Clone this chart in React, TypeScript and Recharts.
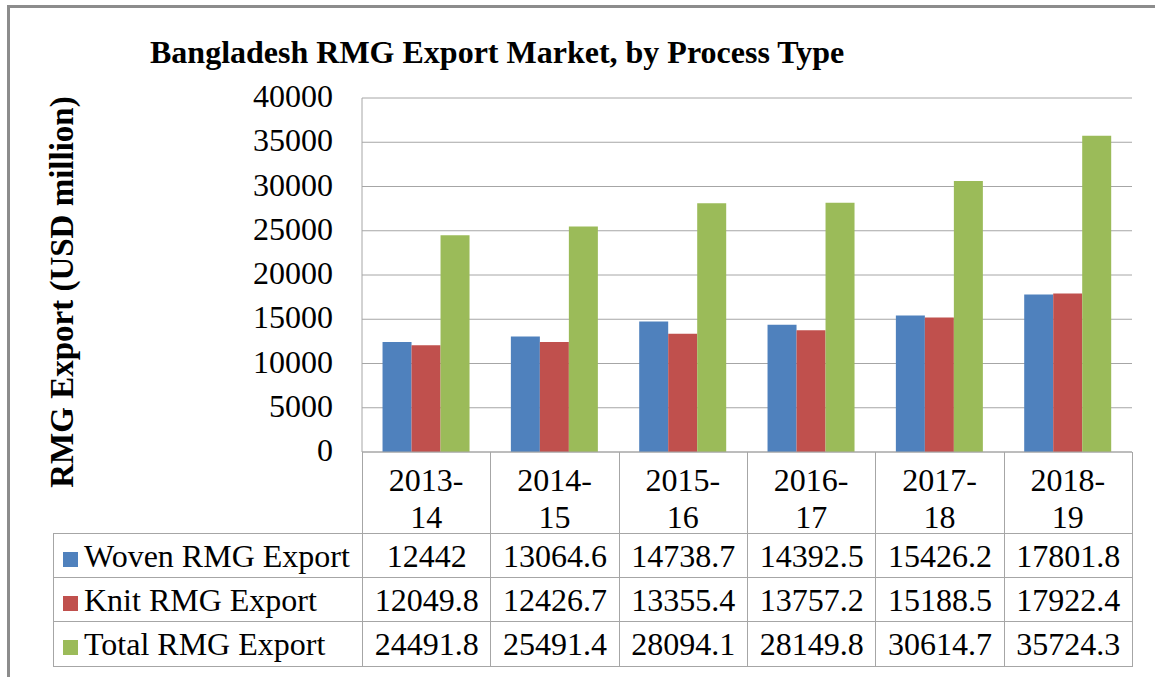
import React from "react";
import { BarChart, Bar, XAxis, YAxis, CartesianGrid } from "recharts";

const categories = ["2013-14", "2014-15", "2015-16", "2016-17", "2017-18", "2018-19"];
const woven = [12442, 13064.6, 14738.7, 14392.5, 15426.2, 17801.8];
const knit = [12049.8, 12426.7, 13355.4, 13757.2, 15188.5, 17922.4];
const total = [24491.8, 25491.4, 28094.1, 28149.8, 30614.7, 35724.3];
const yTicks = [0, 5000, 10000, 15000, 20000, 25000, 30000, 35000, 40000];

const series = [
  { key: "woven", name: "Woven RMG Export", color: "#4F81BD", values: woven },
  { key: "knit", name: "Knit RMG Export", color: "#C0504D", values: knit },
  { key: "total", name: "Total RMG Export", color: "#9BBB59", values: total },
];

const data = categories.map((c, i) => ({
  cat: c,
  woven: woven[i],
  knit: knit[i],
  total: total[i],
}));

const FONT = "Liberation Serif, serif";
const GRID = "#A6A6A6";

const PLOT_LEFT = 362;
const PLOT_RIGHT = 1132;
const PLOT_TOP = 98;
const PLOT_BOTTOM = 452;
const colW = (PLOT_RIGHT - PLOT_LEFT) / categories.length;

function CatTick(props: any) {
  const { x, y, payload } = props;
  const [a, b] = String(payload.value).split("-");
  return (
    <text x={x} y={y} textAnchor="middle" style={{ fontFamily: FONT, fontSize: 32 }} fill="#000">
      <tspan x={x} dy={31}>{a}-</tspan>
      <tspan x={x} dy={37}>{b}</tspan>
    </text>
  );
}

function YTick(props: any) {
  const { x, y, payload } = props;
  return (
    <text x={x} y={y} dy={9} textAnchor="end" style={{ fontFamily: FONT, fontSize: 32 }} fill="#000">
      {payload.value}
    </text>
  );
}

export default function App() {
  const cell: React.CSSProperties = {
    border: `1px solid ${GRID}`,
    padding: 0,
    textAlign: "center",
    whiteSpace: "nowrap",
  };
  return (
    <div style={{ position: "absolute", left: 0, top: 0, width: 1155, height: 677, background: "#fff", overflow: "hidden", fontFamily: FONT }}>
      <div style={{ position: "absolute", left: 7, top: 5, width: 1200, height: 700, borderLeft: "3px solid #8C8C8C", borderTop: "3px solid #8C8C8C" }} />
      <div style={{ position: "absolute", left: 150, top: 52, transform: "translateY(-50%)", fontWeight: "bold", fontSize: 32, lineHeight: 1, whiteSpace: "nowrap" }}>
        Bangladesh RMG Export Market, by Process Type
      </div>
      <div
        style={{
          position: "absolute",
          left: 62,
          top: 292,
          transform: "translate(-50%, -50%) rotate(-90deg)",
          fontWeight: "bold",
          fontSize: 33,
          lineHeight: 1,
          whiteSpace: "nowrap",
        }}
      >
        RMG Export (USD million)
      </div>
      <div style={{ position: "absolute", left: 0, top: 0 }}>
        <BarChart
          width={1155}
          height={677}
          data={data}
          margin={{ top: PLOT_TOP, right: 1155 - PLOT_RIGHT, bottom: 677 - PLOT_BOTTOM - 81, left: 0 }}
          barCategoryGap="16%"
          barGap={0}
        >
          <CartesianGrid vertical={false} stroke={GRID} strokeWidth={1} />
          <XAxis
            dataKey="cat"
            height={81}
            axisLine={{ stroke: GRID }}
            tickLine={false}
            tick={<CatTick />}
            interval={0}
          />
          <YAxis
            width={PLOT_LEFT}
            domain={[0, 40000]}
            ticks={yTicks}
            interval={0}
            axisLine={{ stroke: GRID }}
            tickLine={false}
            tickSize={0}
            tickMargin={29}
            tick={<YTick />}
          />
          {series.map((s) => (
            <Bar key={s.key} dataKey={s.key} name={s.name} fill={s.color} isAnimationActive={false} />
          ))}
        </BarChart>
      </div>
      {/* category row separators */}
      {categories.map((c, i) => (
        <div
          key={c}
          style={{
            position: "absolute",
            left: PLOT_LEFT + colW * (i + 1),
            top: PLOT_BOTTOM,
            width: 0,
            height: 81,
            borderLeft: `1px solid ${GRID}`,
          }}
        />
      ))}
      <div style={{ position: "absolute", left: PLOT_LEFT, top: PLOT_BOTTOM, width: 0, height: 81, borderLeft: `1px solid ${GRID}` }} />
      <table
        style={{
          position: "absolute",
          left: 53,
          top: 533,
          borderCollapse: "collapse",
          tableLayout: "fixed",
          width: PLOT_RIGHT - 53 + 1,
          fontSize: 32,
          lineHeight: 1,
        }}
      >
        <colgroup>
          <col style={{ width: PLOT_LEFT - 53 }} />
          {categories.map((c) => (
            <col key={c} style={{ width: colW }} />
          ))}
        </colgroup>
        <tbody>
          {series.map((s, r) => (
            <tr key={s.key} style={{ height: r === 2 ? 45 : 44 }}>
              <td style={{ ...cell, textAlign: "left" }}>
                <span style={{ display: "inline-block", width: 15, height: 15, background: s.color, marginLeft: 9, marginRight: 6, verticalAlign: "middle" }} />
                {s.name}
              </td>
              {s.values.map((v, i) => (
                <td key={i} style={cell}>{v}</td>
              ))}
            </tr>
          ))}
        </tbody>
      </table>
    </div>
  );
}
